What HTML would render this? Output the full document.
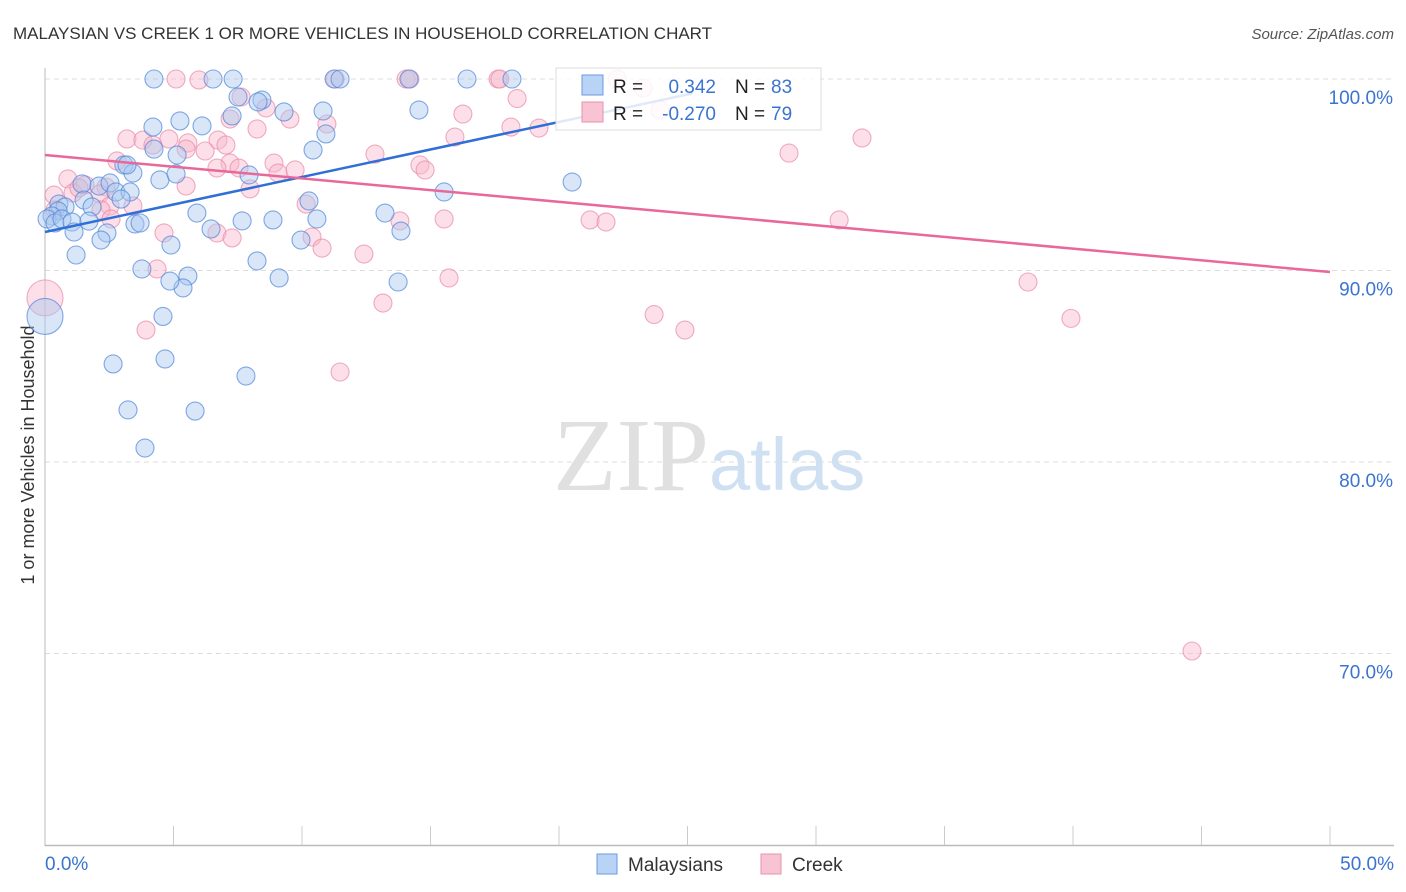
<!DOCTYPE html>
<html><head><meta charset="utf-8"><style>
body{margin:0;background:#fff;font-family:"Liberation Sans",sans-serif}
svg{display:block}
</style></head><body>
<svg id="chart" width="1406" height="892">
<text x="13" y="39" font-size="17" fill="#333">MALAYSIAN VS CREEK 1 OR MORE VEHICLES IN HOUSEHOLD CORRELATION CHART</text>
<text x="1394" y="39" font-size="15" fill="#555" text-anchor="end" font-style="italic">Source: ZipAtlas.com</text>
<text transform="translate(34,455) rotate(-90)" font-size="18" fill="#333" text-anchor="middle">1 or more Vehicles in Household</text>
<g id="grid"></g>
<text x="553" y="490" font-size="104" fill="#ddd" font-family="Liberation Serif,serif"><tspan fill="#e0e0e0">ZIP</tspan><tspan fill="#cfe0f3" font-family="Liberation Sans,sans-serif" font-size="74">atlas</tspan></text>
<g id="pts"></g>
<g id="lines"></g>
<g>
<rect x="556" y="68" width="265" height="62" fill="#fff" fill-opacity="0.85" stroke="#ddd"/>
<rect x="582" y="75" width="21" height="20" fill="#b8d3f5" stroke="#6a9be0"/>
<rect x="582" y="102" width="21" height="20" fill="#f8c3d3" stroke="#e990ab"/>
<text x="613" y="93" font-size="19" fill="#222">R =</text><text x="716" y="93" font-size="19" fill="#3a74d0" text-anchor="end">0.342</text>
<text x="735" y="93" font-size="19" fill="#222">N =</text><text x="771" y="93" font-size="19" fill="#3a74d0">83</text>
<text x="613" y="120" font-size="19" fill="#222">R =</text><text x="716" y="120" font-size="19" fill="#3a74d0" text-anchor="end">-0.270</text>
<text x="735" y="120" font-size="19" fill="#222">N =</text><text x="771" y="120" font-size="19" fill="#3a74d0">79</text>
</g>
<g>
<rect x="597" y="854" width="20" height="20" fill="#b8d3f5" stroke="#6a9be0"/>
<text x="628" y="871" font-size="19" fill="#333">Malaysians</text>
<rect x="761" y="854" width="20" height="20" fill="#f8c3d3" stroke="#e990ab"/>
<text x="792" y="871" font-size="19" fill="#333">Creek</text>
</g>
</svg>
<script>
const yTicks=[100,90,80,70];
const xTickLabels=["0.0%","50.0%"];
const blueX=[4.24,6.54,7.32,11.25,11.48,14.16,16.42,18.17,7.51,8.44,8.29,9.3,10.82,14.55,4.2,5.25,6.11,7.28,10.93,10.43,4.24,5.14,3.07,3.42,4.47,5.1,1.44,2.1,2.53,2.76,3.31,1.52,1.83,2.96,0.54,0.78,0.51,0.27,0.08,0.39,0.66,1.05,1.71,2.41,3.5,3.7,1.13,2.18,5.91,6.46,7.67,8.87,10.58,10.27,9.96,13.23,13.85,15.53,20.51,1.21,3.77,4.9,5.56,5.37,4.86,8.25,9.11,13.74,4.59,0,2.65,4.67,7.82,3.23,5.84,3.89,7.94,3.19];
const blueY=[100,100,100,100,100,100,100,100,99.06,98.9,98.8,98.28,98.33,98.38,97.49,97.81,97.55,98.07,97.13,96.29,96.34,96.03,95.51,95.09,94.73,95.04,94.52,94.41,94.57,94.1,94.1,93.68,93.32,93.73,93.47,93.32,93.11,92.85,92.69,92.48,92.69,92.53,92.58,91.96,92.43,92.48,92.01,91.59,93.0,92.17,92.59,92.64,92.69,93.63,91.59,93.0,92.06,94.1,94.62,90.81,90.08,91.33,89.71,89.09,89.45,90.5,89.61,89.4,87.6,87.6,85.12,85.38,84.49,82.72,82.66,80.73,94.99,95.51];
const pinkX=[5.1,5.99,11.29,14.05,14.2,17.63,17.7,22.26,23.27,7.63,7.2,8.6,8.25,9.53,10.97,6.73,7.04,5.56,6.23,4.82,5.49,3.19,3.81,4.2,2.8,0.89,1.56,2.37,2.14,1.09,0.35,0.39,1.32,2.53,3.42,2.18,2.57,7.2,7.55,6.69,5.49,7.98,8.91,9.07,9.73,10.16,10.39,10.78,4.63,6.69,7.28,4.36,3.93,11.48,12.41,13.15,12.84,13.81,14.59,14.79,15.53,15.72,16.26,15.95,18.13,18.37,19.22,21.21,21.83,23.7,24.9,23.93,28.95,30.9,31.79,38.25,39.92,44.63,0];
const pinkY=[100,99.95,100,100,100,100,100,100,99.53,99.06,97.91,98.49,97.39,97.91,97.65,96.81,96.55,96.66,96.24,96.87,96.34,96.87,96.81,96.55,95.72,94.78,94.47,94.36,94.0,94.05,93.94,93.16,94.31,93.37,93.37,93.16,92.69,95.61,95.35,95.35,94.41,94.26,95.61,95.09,95.25,93.47,91.75,91.17,91.96,91.96,91.7,90.08,86.89,84.7,90.86,88.3,96.08,92.59,95.51,95.25,92.69,89.61,98.17,96.97,97.49,98.98,97.44,92.64,92.53,87.7,86.89,98.38,96.13,92.64,96.92,89.4,87.5,70.13,88.57];
const blueFit=[92.01,99.25];   // y at x=0 and x=25.2
const pinkFit=[96.03,89.92];   // y at x=0 and x=50
const ns="http://www.w3.org/2000/svg";
const X=v=>45+v/50*1285, Y=v=>79+(100-v)*19.15;
function mk(t,a,p){const e=document.createElementNS(ns,t);for(const k in a)e.setAttribute(k,a[k]);p.appendChild(e);return e;}
const grid=document.getElementById('grid');
yTicks.forEach(t=>{
 const l=mk('line',{x1:45,x2:1393,y1:Y(t),y2:Y(t),stroke:'#ddd','stroke-dasharray':'5,4'},grid);
 
 
 const tx=mk('text',{x:1393,y:Y(t)+25,'font-size':19,fill:'#3a74d0','text-anchor':'end'},grid);
 tx.textContent=t.toFixed(1)+'%';
 
 
});
const ax=mk('line',{x1:45,x2:45,y1:68,y2:846,stroke:'#bbb'},grid);


const bx=mk('line',{x1:45,x2:1394,y1:845.5,y2:845.5,stroke:'#bbb','stroke-width':1.5},grid);


for(let i=1;i<=10;i++){const t=mk('line',{x1:X(i*5),x2:X(i*5),y1:826,y2:845,stroke:'#ccc'},grid);
 
 }
xTickLabels.forEach((s,i)=>{const t=mk('text',{x:i?1394:45,y:870,'font-size':19,fill:'#3a74d0','text-anchor':i?'end':'start'},grid);t.textContent=s;
 
 });
const pts=document.getElementById('pts');
function dots(xs,ys,fill,stroke,name){xs.forEach((x,i)=>{const big=(x===0);
 const c=mk('circle',{cx:X(x),cy:Y(ys[i]),r:big?18:9,fill:fill,'fill-opacity':0.45,stroke:stroke,'stroke-opacity':0.7,'stroke-width':1.1},pts);
 
 });}
dots(pinkX,pinkY,'#f8b8cb','#e98aa8','creek-point');
dots(blueX,blueY,'#a9c8f0','#4f86d8','malaysian-point');
const lines=document.getElementById('lines');
const bl=mk('line',{x1:X(0),y1:Y(blueFit[0]),x2:X(25.2),y2:Y(blueFit[1]),stroke:'#2f6fd6','stroke-width':2.5},lines);


const pl=mk('line',{x1:X(0),y1:Y(pinkFit[0]),x2:X(50),y2:Y(pinkFit[1]),stroke:'#e8689a','stroke-width':2.5},lines);


</script>
</body></html>
